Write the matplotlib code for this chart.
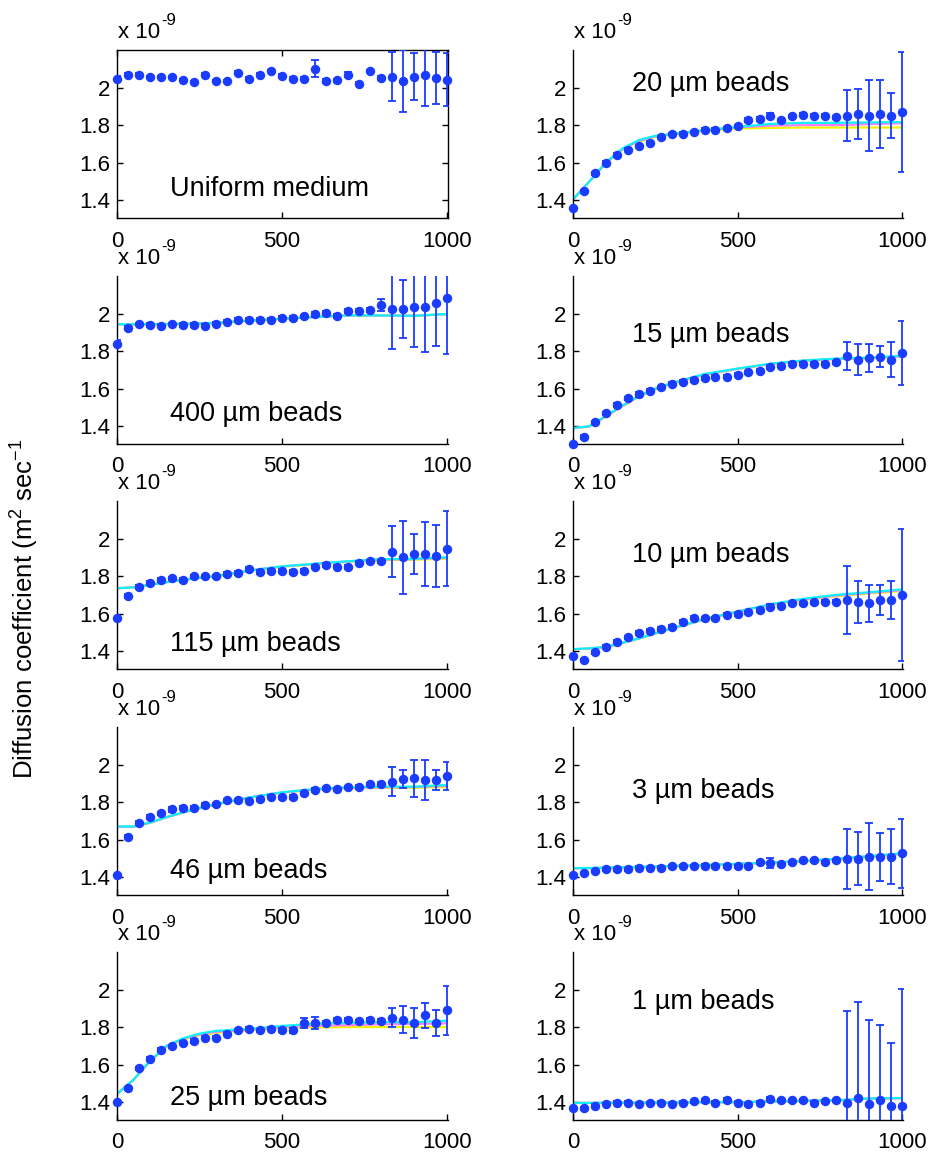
import matplotlib
matplotlib.use("Agg")
import matplotlib.pyplot as plt
from matplotlib.ticker import FuncFormatter

plt.rcParams['font.family'] = ['Liberation Sans', 'DejaVu Sans']
plt.rcParams['mathtext.fontset'] = 'custom'
plt.rcParams['mathtext.rm'] = 'Liberation Sans'
plt.rcParams['mathtext.it'] = 'Liberation Sans'
plt.rcParams['mathtext.default'] = 'regular'

# ---------------- data (values in units of 1e-9 m^2/s) ----------------
x_time = [0, 33, 67, 100, 133, 167, 200, 233, 267, 300, 333, 367, 400, 433, 467,
          500, 533, 567, 600, 633, 667, 700, 733, 767, 800, 833, 867, 900, 933, 967, 1000]
fit_x = [0, 50, 100, 150, 200, 250, 300, 400, 500, 600, 700, 800, 900, 1000]

uniform_y = [2.048, 2.069, 2.069, 2.058, 2.058, 2.058, 2.039, 2.030, 2.069, 2.034, 2.034, 2.080, 2.048, 2.069, 2.088,
             2.062, 2.048, 2.048, 2.100, 2.034, 2.039, 2.069, 2.021, 2.088, 2.051, 2.058, 2.034, 2.058, 2.069, 2.051, 2.042]
uniform_err = [0.012, 0.008, 0.008, 0.006, 0.006, 0.006, 0.006, 0.006, 0.010, 0.006, 0.006, 0.008, 0.010, 0.006, 0.006,
               0.012, 0.008, 0.010, 0.045, 0.010, 0.008, 0.012, 0.008, 0.006, 0.010, 0.130, 0.165, 0.125, 0.165, 0.140, 0.140]

b400_y = [1.839, 1.923, 1.946, 1.938, 1.936, 1.946, 1.938, 1.938, 1.936, 1.946, 1.957, 1.968, 1.968, 1.968, 1.968,
          1.975, 1.975, 1.986, 1.996, 2.004, 1.986, 2.014, 2.014, 2.018, 2.046, 2.025, 2.025, 2.034, 2.034, 2.055, 2.082]
b400_err = [0.018, 0.010, 0.006, 0.010, 0.008, 0.006, 0.010, 0.010, 0.010, 0.008, 0.008, 0.008, 0.006, 0.008, 0.008,
            0.012, 0.010, 0.008, 0.012, 0.012, 0.010, 0.012, 0.008, 0.010, 0.034, 0.214, 0.156, 0.210, 0.240, 0.230, 0.300]
b400_cyan = [1.943, 1.943, 1.943, 1.944, 1.945, 1.947, 1.950, 1.962, 1.972, 1.982, 1.990, 1.990, 1.988, 1.998]
b400_yellow = [1.943, 1.943, 1.943, 1.944, 1.945, 1.947, 1.950, 1.962, 1.972, 1.982, 1.989, 1.989, 1.987, 1.996]
b400_magenta = [1.943, 1.943, 1.943, 1.944, 1.945, 1.947, 1.950, 1.962, 1.972, 1.982, 1.990, 1.990, 1.988, 1.997]

b115_y = [1.579, 1.693, 1.741, 1.763, 1.780, 1.789, 1.780, 1.798, 1.798, 1.798, 1.811, 1.816, 1.838, 1.820, 1.829,
          1.829, 1.820, 1.829, 1.850, 1.861, 1.850, 1.850, 1.870, 1.879, 1.879, 1.929, 1.900, 1.918, 1.918, 1.909, 1.946]
b115_err = [0.008, 0.010, 0.010, 0.012, 0.010, 0.008, 0.010, 0.008, 0.008, 0.008, 0.010, 0.010, 0.008, 0.010, 0.010,
            0.010, 0.010, 0.010, 0.008, 0.010, 0.008, 0.010, 0.008, 0.008, 0.008, 0.136, 0.196, 0.107, 0.171, 0.165, 0.200]
b115_cyan = [1.735, 1.740, 1.754, 1.767, 1.780, 1.790, 1.800, 1.829, 1.852, 1.866, 1.879, 1.890, 1.892, 1.900]
b115_yellow = [1.735, 1.740, 1.754, 1.767, 1.780, 1.790, 1.800, 1.828, 1.850, 1.863, 1.876, 1.885, 1.887, 1.893]
b115_magenta = [1.735, 1.740, 1.754, 1.767, 1.780, 1.790, 1.800, 1.829, 1.851, 1.865, 1.878, 1.888, 1.890, 1.897]

b46_y = [1.411, 1.614, 1.691, 1.721, 1.741, 1.761, 1.771, 1.771, 1.784, 1.789, 1.811, 1.811, 1.807, 1.816, 1.829,
         1.825, 1.829, 1.848, 1.866, 1.875, 1.868, 1.879, 1.879, 1.896, 1.896, 1.909, 1.923, 1.927, 1.918, 1.918, 1.938]
b46_err = [0.006, 0.008, 0.010, 0.010, 0.008, 0.012, 0.008, 0.008, 0.010, 0.008, 0.008, 0.008, 0.008, 0.008, 0.008,
           0.008, 0.010, 0.008, 0.010, 0.008, 0.008, 0.008, 0.010, 0.008, 0.010, 0.079, 0.046, 0.098, 0.107, 0.054, 0.074]
b46_cyan = [1.670, 1.670, 1.691, 1.720, 1.745, 1.768, 1.789, 1.825, 1.852, 1.870, 1.879, 1.882, 1.882, 1.891]
b46_yellow = [1.668, 1.668, 1.689, 1.718, 1.743, 1.766, 1.787, 1.823, 1.850, 1.866, 1.874, 1.876, 1.876, 1.880]
b46_magenta = [1.669, 1.669, 1.690, 1.719, 1.744, 1.767, 1.788, 1.824, 1.851, 1.868, 1.877, 1.879, 1.880, 1.886]

b25_y = [1.400, 1.474, 1.580, 1.628, 1.677, 1.698, 1.716, 1.726, 1.744, 1.744, 1.765, 1.783, 1.792, 1.783, 1.792,
         1.783, 1.783, 1.822, 1.822, 1.822, 1.839, 1.839, 1.831, 1.839, 1.831, 1.850, 1.839, 1.822, 1.862, 1.822, 1.889]
b25_err = [0.006, 0.008, 0.010, 0.010, 0.010, 0.008, 0.008, 0.010, 0.010, 0.008, 0.008, 0.008, 0.008, 0.008, 0.010,
           0.010, 0.012, 0.025, 0.030, 0.008, 0.008, 0.008, 0.008, 0.008, 0.010, 0.050, 0.073, 0.082, 0.068, 0.067, 0.130]
b25_cyan = [1.444, 1.520, 1.620, 1.700, 1.740, 1.765, 1.780, 1.790, 1.806, 1.818, 1.822, 1.826, 1.826, 1.834]
b25_yellow = [1.444, 1.518, 1.616, 1.694, 1.733, 1.757, 1.770, 1.782, 1.795, 1.798, 1.800, 1.800, 1.800, 1.800]
b25_magenta = [1.444, 1.519, 1.618, 1.697, 1.737, 1.761, 1.775, 1.786, 1.800, 1.808, 1.810, 1.815, 1.817, 1.820]

b20_y = [1.359, 1.448, 1.543, 1.598, 1.642, 1.669, 1.687, 1.706, 1.736, 1.754, 1.754, 1.764, 1.775, 1.775, 1.782,
         1.795, 1.827, 1.834, 1.851, 1.829, 1.848, 1.855, 1.851, 1.851, 1.842, 1.851, 1.860, 1.851, 1.860, 1.851, 1.869]
b20_err = [0.006, 0.008, 0.008, 0.008, 0.010, 0.008, 0.006, 0.008, 0.006, 0.006, 0.008, 0.006, 0.008, 0.008, 0.006,
           0.006, 0.010, 0.010, 0.012, 0.006, 0.008, 0.008, 0.006, 0.006, 0.008, 0.136, 0.134, 0.190, 0.180, 0.120, 0.320]
b20_cyan = [1.404, 1.500, 1.600, 1.675, 1.720, 1.743, 1.752, 1.773, 1.790, 1.806, 1.812, 1.812, 1.814, 1.816]
b20_yellow = [1.404, 1.500, 1.598, 1.670, 1.712, 1.738, 1.750, 1.770, 1.782, 1.785, 1.787, 1.787, 1.787, 1.787]
b20_magenta = [1.404, 1.500, 1.599, 1.672, 1.716, 1.740, 1.751, 1.772, 1.788, 1.797, 1.800, 1.800, 1.805, 1.810]

b15_y = [1.307, 1.343, 1.421, 1.468, 1.512, 1.548, 1.570, 1.588, 1.607, 1.625, 1.636, 1.646, 1.654, 1.664, 1.664,
         1.673, 1.686, 1.695, 1.716, 1.721, 1.732, 1.732, 1.732, 1.732, 1.741, 1.775, 1.754, 1.763, 1.771, 1.754, 1.789]
b15_err = [0.006, 0.012, 0.008, 0.008, 0.012, 0.008, 0.012, 0.008, 0.008, 0.008, 0.008, 0.010, 0.008, 0.010, 0.008,
           0.008, 0.008, 0.008, 0.012, 0.008, 0.008, 0.008, 0.008, 0.008, 0.008, 0.075, 0.084, 0.073, 0.057, 0.093, 0.170]
b15_cyan = [1.390, 1.400, 1.455, 1.510, 1.560, 1.600, 1.630, 1.678, 1.707, 1.733, 1.750, 1.760, 1.765, 1.775]
b15_yellow = [1.388, 1.398, 1.450, 1.505, 1.556, 1.597, 1.628, 1.675, 1.704, 1.730, 1.747, 1.757, 1.762, 1.772]
b15_magenta = [1.389, 1.399, 1.452, 1.507, 1.558, 1.598, 1.629, 1.676, 1.705, 1.731, 1.748, 1.758, 1.763, 1.773]

b10_y = [1.373, 1.352, 1.393, 1.423, 1.450, 1.473, 1.495, 1.509, 1.518, 1.530, 1.557, 1.579, 1.575, 1.575, 1.593,
         1.596, 1.607, 1.620, 1.637, 1.643, 1.654, 1.654, 1.661, 1.664, 1.664, 1.673, 1.664, 1.654, 1.673, 1.673, 1.700]
b10_err = [0.008, 0.006, 0.010, 0.008, 0.008, 0.010, 0.010, 0.008, 0.010, 0.008, 0.008, 0.008, 0.008, 0.008, 0.008,
           0.008, 0.008, 0.012, 0.015, 0.008, 0.008, 0.008, 0.008, 0.008, 0.008, 0.181, 0.112, 0.101, 0.078, 0.103, 0.351]
b10_cyan = [1.411, 1.415, 1.423, 1.445, 1.468, 1.495, 1.521, 1.571, 1.611, 1.650, 1.679, 1.700, 1.714, 1.729]
b10_yellow = [1.409, 1.413, 1.421, 1.443, 1.466, 1.493, 1.519, 1.569, 1.612, 1.645, 1.673, 1.693, 1.707, 1.720]
b10_magenta = [1.410, 1.414, 1.422, 1.444, 1.467, 1.494, 1.520, 1.570, 1.611, 1.648, 1.676, 1.696, 1.711, 1.725]

b3_y = [1.411, 1.421, 1.432, 1.441, 1.441, 1.441, 1.450, 1.450, 1.450, 1.459, 1.459, 1.459, 1.459, 1.459, 1.459,
        1.459, 1.459, 1.479, 1.475, 1.468, 1.479, 1.489, 1.489, 1.479, 1.489, 1.498, 1.498, 1.509, 1.509, 1.509, 1.527]
b3_err = [0.006, 0.006, 0.006, 0.008, 0.008, 0.006, 0.008, 0.006, 0.008, 0.008, 0.006, 0.006, 0.010, 0.008, 0.008,
          0.008, 0.006, 0.008, 0.025, 0.006, 0.008, 0.006, 0.008, 0.006, 0.008, 0.160, 0.140, 0.180, 0.127, 0.146, 0.185]
b3_cyan = [1.448, 1.449, 1.451, 1.453, 1.455, 1.457, 1.460, 1.465, 1.471, 1.478, 1.486, 1.498, 1.512, 1.527]
b3_yellow = [1.447, 1.448, 1.450, 1.452, 1.454, 1.456, 1.459, 1.464, 1.470, 1.477, 1.485, 1.496, 1.509, 1.523]
b3_magenta = [1.447, 1.448, 1.450, 1.452, 1.454, 1.456, 1.459, 1.464, 1.470, 1.477, 1.485, 1.497, 1.510, 1.525]

b1_y = [1.368, 1.368, 1.381, 1.389, 1.398, 1.398, 1.389, 1.394, 1.398, 1.389, 1.398, 1.404, 1.409, 1.398, 1.412,
        1.398, 1.389, 1.398, 1.419, 1.409, 1.409, 1.409, 1.398, 1.404, 1.409, 1.398, 1.421, 1.389, 1.409, 1.381, 1.381]
b1_err = [0.006, 0.008, 0.008, 0.006, 0.006, 0.006, 0.006, 0.006, 0.008, 0.006, 0.006, 0.008, 0.006, 0.010, 0.010,
          0.006, 0.008, 0.006, 0.008, 0.006, 0.006, 0.006, 0.006, 0.006, 0.006, 0.490, 0.515, 0.450, 0.400, 0.333, 0.620]
b1_cyan = [1.396, 1.396, 1.397, 1.397, 1.397, 1.398, 1.398, 1.399, 1.400, 1.403, 1.407, 1.410, 1.420, 1.422]
b1_yellow = [1.396, 1.396, 1.397, 1.397, 1.397, 1.398, 1.398, 1.399, 1.400, 1.403, 1.406, 1.409, 1.418, 1.420]
b1_magenta = [1.396, 1.396, 1.397, 1.397, 1.397, 1.398, 1.398, 1.399, 1.400, 1.403, 1.407, 1.410, 1.419, 1.421]

labels_left = ["Uniform medium", "400 \u00b5m beads", "115 \u00b5m beads", "46 \u00b5m beads", "25 \u00b5m beads"]
labels_right = ["20 \u00b5m beads", "15 \u00b5m beads", "10 \u00b5m beads", "3 \u00b5m beads", "1 \u00b5m beads"]
y_ticks = [1.4, 1.6, 1.8, 2.0]
x_ticks = [0, 500, 1000]

# ---------------- layout ----------------
W, H = 934, 1159
fig = plt.figure(figsize=(W / 100, H / 100), dpi=100)

col_left = [117, 573]
col_width = [331, 330]
row_top = [50, 276, 501, 727, 952]
row_h = 168

DOT = '#1a3cff'
CYAN = '#10f0fa'
YELLOW = '#f2f200'
MAGENTA = '#ff7cff'

left_panels = [
    (uniform_y, uniform_err, None, None, None, labels_left[0], 0.17),
    (b400_y, b400_err, b400_cyan, b400_yellow, b400_magenta, labels_left[1], 0.18),
    (b115_y, b115_err, b115_cyan, b115_yellow, b115_magenta, labels_left[2], 0.15),
    (b46_y, b46_err, b46_cyan, b46_yellow, b46_magenta, labels_left[3], 0.145),
    (b25_y, b25_err, b25_cyan, b25_yellow, b25_magenta, labels_left[4], 0.13),
]
right_panels = [
    (b20_y, b20_err, b20_cyan, b20_yellow, b20_magenta, labels_right[0], 0.80),
    (b15_y, b15_err, b15_cyan, b15_yellow, b15_magenta, labels_right[1], 0.65),
    (b10_y, b10_err, b10_cyan, b10_yellow, b10_magenta, labels_right[2], 0.68),
    (b3_y, b3_err, b3_cyan, b3_yellow, b3_magenta, labels_right[3], 0.62),
    (b1_y, b1_err, b1_cyan, b1_yellow, b1_magenta, labels_right[4], 0.70),
]

fmt = FuncFormatter(lambda v, p: '%g' % round(v, 3))

for c, panels in enumerate([left_panels, right_panels]):
    for r, (yv, ev, fc, fy, fm, lab, ly) in enumerate(panels):
        l = col_left[c] / W
        w = col_width[c] / W
        b = 1 - (row_top[r] + row_h) / H
        h = row_h / H
        ax = fig.add_axes([l, b, w, h])
        if fc is not None:
            ax.plot(fit_x, fy, color=YELLOW, lw=1.6, zorder=2)
            ax.plot(fit_x, fm, color=MAGENTA, lw=1.6, zorder=2.1)
            ax.plot(fit_x, fc, color=CYAN, lw=1.6, zorder=2.2)
        dl, caps, bars = ax.errorbar(x_time, yv, yerr=ev, fmt='o', color=DOT, ecolor=DOT,
                                     ms=5.8, mec=DOT, elinewidth=1.3, capsize=3.2,
                                     capthick=1.3, zorder=3)
        dl.set_clip_on(False)
        ax.set_xlim(0, 1003)
        ax.set_ylim(1.305, 2.2)
        ax.set_xticks(x_ticks)
        ax.set_yticks(y_ticks)
        ax.yaxis.set_major_formatter(fmt)
        boxed = (c == 0 and r == 0)
        ax.tick_params(direction='in', length=4, width=1.0, labelsize=16,
                       top=boxed, right=boxed)
        ax.tick_params(axis='x', pad=9)
        ax.tick_params(axis='y', pad=5)
        for s in ['top', 'right']:
            ax.spines[s].set_visible(boxed)
        for s in ax.spines.values():
            s.set_linewidth(1.0)
        ax.text(0.16 if c == 0 else 0.18, ly, lab, transform=ax.transAxes,
                fontsize=19.5, ha='left', va='center')
        ax.annotate('x 10', xy=(0, 1), xycoords='axes fraction',
                    xytext=(0.5, 8.5), textcoords='offset points',
                    ha='left', va='baseline', fontsize=16)
        ax.annotate('-9', xy=(0, 1), xycoords='axes fraction',
                    xytext=(31.5, 18), textcoords='offset points',
                    ha='left', va='baseline', fontsize=12)

fig.text(25 / W, 1 - 609 / H, 'Diffusion coefficient (m$^2$ sec$^{-1}$',
         rotation=90, ha='center', va='center', fontsize=18.5)

fig.savefig('out.png', dpi=100)
